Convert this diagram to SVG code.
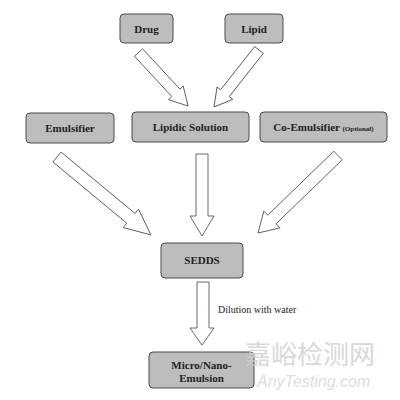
<svg xmlns="http://www.w3.org/2000/svg" width="400" height="400" viewBox="0 0 400 400">
<style>
.box{fill:#bdbdbd;stroke:#4a4a4a;stroke-width:1}
.t{font-family:"Liberation Serif","DejaVu Serif",serif;font-weight:bold;font-size:11px;fill:#222;text-anchor:middle}
.arr{fill:#fff;stroke:#444;stroke-width:0.8}
.lbl{font-family:"Liberation Serif","DejaVu Serif",serif;font-size:10px;fill:#222}
.wm{font-family:"Noto Sans CJK SC",sans-serif;fill:#cfcfcf;font-size:26px}
.wm2{font-family:"Liberation Sans",sans-serif;font-style:italic;fill:#d6d6d6;font-size:16px}
</style>
<rect width="400" height="400" fill="#fff"/>
<g id="connectors">
<polygon class="arr" transform="translate(138.5,52.5) rotate(47.2)" points="0,-5.5 55,-5.5 55,-10 73,0 55,10 55,5.5 0,5.5"/>
<polygon class="arr" transform="translate(259,50) rotate(128.3)" points="0,-5.5 55,-5.5 55,-10 72.6,0 55,10 55,5.5 0,5.5"/>
<polygon class="arr" transform="translate(57,157) rotate(39.7)" points="0,-6.4 96,-6.4 96,-12 122,0 96,12 96,6.4 0,6.4"/>
<polygon class="arr" points="196,154 208,154 208,216 214,216 202,236 190,216 196,216"/>
<polygon class="arr" transform="translate(338,155.5) rotate(135.9)" points="0,-6 92,-6 92,-11.6 111.4,0 92,11.6 92,6 0,6"/>
<polygon class="arr" points="197,282 209,282 209,328 214,328 202,345 190,328 197,328"/>
<text class="lbl" x="218" y="313">Dilution with water</text>
</g>
<g id="drug"><rect class="box" x="120" y="14" width="53" height="29" rx="4"/><text class="t" x="146.5" y="32.5">Drug</text></g>
<g id="lipid"><rect class="box" x="225" y="14" width="58" height="29" rx="4"/><text class="t" x="254" y="32.5">Lipid</text></g>
<g id="emulsifier"><rect class="box" x="26" y="113" width="88" height="30" rx="4"/><text class="t" x="70" y="131.5">Emulsifier</text></g>
<g id="lipidic-solution"><rect class="box" x="132" y="112" width="117" height="30" rx="4"/><text class="t" x="190.5" y="130.5">Lipidic Solution</text></g>
<g id="co-emulsifier"><rect class="box" x="260" y="112" width="127" height="30" rx="4"/><text class="t" x="323.5" y="130.5">Co-Emulsifier <tspan font-size="7">(Optional)</tspan></text></g>
<g id="sedds"><rect class="box" x="161" y="243" width="82" height="35" rx="4"/><text class="t" x="202" y="264">SEDDS</text></g>
<g id="micro-nano"><rect class="box" x="149" y="352" width="105" height="36" rx="4"/><text class="t" x="201.5" y="369">Micro/Nano-</text><text class="t" x="201.5" y="381.5">Emulsion</text></g>
<g id="watermark" opacity="0.8"><text class="wm" x="245" y="364">嘉峪检测网</text><text class="wm2" x="257" y="387">AnyTesting.com</text></g>
</svg>
